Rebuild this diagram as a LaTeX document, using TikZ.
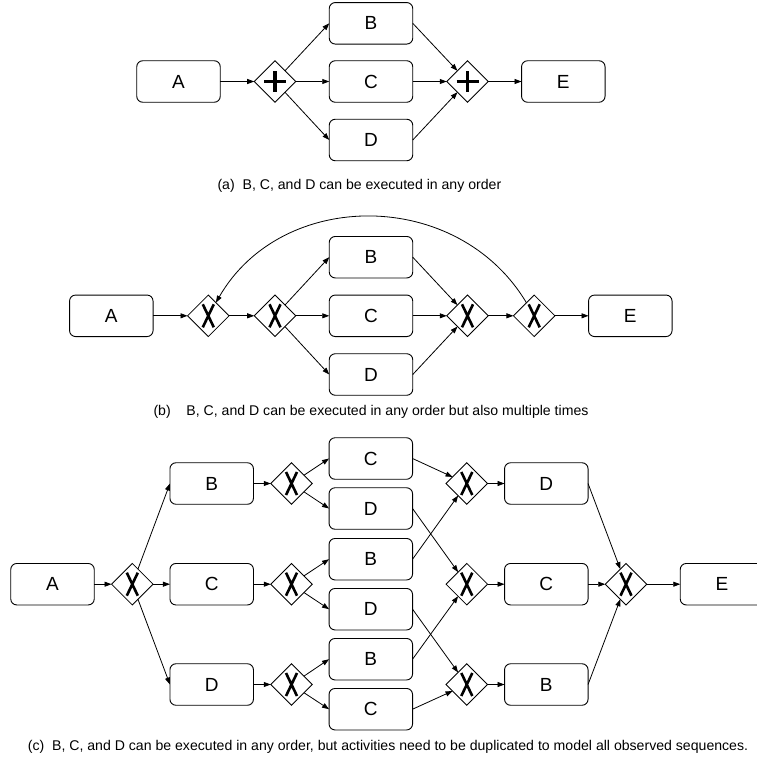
\documentclass[tikz,border=0pt]{standalone}
\usepackage{fontspec}
\setmainfont{Liberation Sans}
\usetikzlibrary{arrows.meta,shapes.geometric}
\begin{document}
\begin{tikzpicture}[x=1pt,y=-1pt,
  task/.style={draw=black,line width=0.9pt,rounded corners=6pt,minimum width=83.5pt,minimum height=41.5pt,inner sep=0pt,outer sep=0pt,font=\fontsize{19}{19}\selectfont},
  gw/.style={draw=black,line width=0.8pt,diamond,minimum width=41.5pt,minimum height=41.5pt,inner sep=0pt,outer sep=0pt},
  xgw/.style={gw,path picture={\draw[line width=2.6pt]
     ([shift={(-5.5,-11.5)}]path picture bounding box.center) -- ([shift={(5.5,11.5)}]path picture bounding box.center)
     ([shift={(5.5,-11.5)}]path picture bounding box.center) -- ([shift={(-5.5,11.5)}]path picture bounding box.center);}},
  pgw/.style={gw,path picture={\draw[line width=3.5pt]
     ([shift={(-11,0)}]path picture bounding box.center) -- ([shift={(11,0)}]path picture bounding box.center)
     ([shift={(0,-10.5)}]path picture bounding box.center) -- ([shift={(0,10.5)}]path picture bounding box.center);}},
  arr/.style={-{Triangle[length=7pt,width=5pt]},line width=0.8pt},
  captext/.style={font=\fontsize{14.1}{14.1}\selectfont,inner sep=0pt}
]
\path[use as bounding box,fill=white] (0,0) rectangle (757,761);

% ---------- (a) ----------
\node[task] (aA) at (178.5,81.5) {A};
\node[pgw]  (ag1) at (275,81.5) {};
\node[task] (aB) at (371,23.3) {B};
\node[task] (aC) at (371,81.5) {C};
\node[task] (aD) at (371,140) {D};
\node[pgw]  (ag2) at (467.5,81.5) {};
\node[task] (aE) at (563.3,81.5) {E};
\draw[arr] (aA) -- (ag1);
\draw[arr] (ag1) -- (aB.west);
\draw[arr] (ag1) -- (aC);
\draw[arr] (ag1) -- (aD.west);
\draw[arr] (aB.east) -- (ag2);
\draw[arr] (aC) -- (ag2);
\draw[arr] (aD.east) -- (ag2);
\draw[arr] (ag2) -- (aE);
\node[captext] (capa) at (359.4,186) {(a)\ \ B, C, and D can be executed in any order};

% ---------- (b) ----------
\node[task] (bA) at (111.3,315.8) {A};
\node[xgw]  (bg1) at (208.3,315.8) {};
\node[xgw]  (bg2) at (275,315.8) {};
\node[task] (bB) at (371,257.2) {B};
\node[task] (bC) at (371,315.8) {C};
\node[task] (bD) at (371,374.5) {D};
\node[xgw]  (bg3) at (467.5,315.8) {};
\node[xgw]  (bg4) at (534.2,315.8) {};
\node[task] (bE) at (630.3,315.8) {E};
\draw[arr] (bA) -- (bg1);
\draw[arr] (bg1) -- (bg2);
\draw[arr] (bg2) -- (bB.west);
\draw[arr] (bg2) -- (bC);
\draw[arr] (bg2) -- (bD.west);
\draw[arr] (bB.east) -- (bg3);
\draw[arr] (bC) -- (bg3);
\draw[arr] (bD.east) -- (bg3);
\draw[arr] (bg3) -- (bg4);
\draw[arr] (bg4) -- (bE);
\draw[arr] (bg4) .. controls (458,188) and (282,188) .. (bg1);
\node[captext] (capb) at (371,412) {(b)\ \ \ \ B, C, and D can be executed in any order but also multiple times};

% ---------- (c) ----------
\node[task] (cA) at (52.5,584.2) {A};
\node[xgw]  (cG) at (132.3,584.2) {};
\node[task] (cB) at (211.7,483.5) {B};
\node[task] (cC) at (211.7,584.2) {C};
\node[task] (cD) at (211.7,684.5) {D};
\node[xgw]  (cgB) at (291.5,483.5) {};
\node[xgw]  (cgC) at (291.5,584.2) {};
\node[xgw]  (cgD) at (291.5,684.5) {};
\node[task] (c3a) at (370.8,458.5) {C};
\node[task] (c3b) at (370.8,508.5) {D};
\node[task] (c3c) at (370.8,559.2) {B};
\node[task] (c3d) at (370.8,609.2) {D};
\node[task] (c3e) at (370.8,659.2) {B};
\node[task] (c3f) at (370.8,709.2) {C};
\node[xgw]  (cJ1) at (466.8,483.5) {};
\node[xgw]  (cJ2) at (466.8,584.2) {};
\node[xgw]  (cJ3) at (466.8,684.5) {};
\node[task] (c5D) at (546.3,483.5) {D};
\node[task] (c5C) at (546.3,584.2) {C};
\node[task] (c5B) at (546.3,684.5) {B};
\node[xgw]  (cF) at (626,584.2) {};
\node[task] (cE) at (722,584.2) {E};
\draw[arr] (cA) -- (cG);
\draw[arr] (cG) -- (cB.west);
\draw[arr] (cG) -- (cC);
\draw[arr] (cG) -- (cD.west);
\draw[arr] (cB) -- (cgB);
\draw[arr] (cC) -- (cgC);
\draw[arr] (cD) -- (cgD);
\draw[arr] (cgB) -- (c3a.west);
\draw[arr] (cgB) -- (c3b.west);
\draw[arr] (cgC) -- (c3c.west);
\draw[arr] (cgC) -- (c3d.west);
\draw[arr] (cgD) -- (c3e.west);
\draw[arr] (cgD) -- (c3f.west);
\draw[arr] (c3a.east) -- (cJ1);
\draw[arr] (c3c.east) -- (cJ1);
\draw[arr] (c3b.east) -- (cJ2);
\draw[arr] (c3e.east) -- (cJ2);
\draw[arr] (c3d.east) -- (cJ3);
\draw[arr] (c3f.east) -- (cJ3);
\draw[arr] (cJ1) -- (c5D);
\draw[arr] (cJ2) -- (c5C);
\draw[arr] (cJ3) -- (c5B);
\draw[arr] (c5D.east) -- (cF);
\draw[arr] (c5C) -- (cF);
\draw[arr] (c5B.east) -- (cF);
\draw[arr] (cF) -- (cE);
\node[captext] (capc) at (388,746.7) {(c)\ \ B, C, and D can be executed in any order, but activities need to be duplicated to model all observed sequences.};
\end{tikzpicture}
\end{document}
